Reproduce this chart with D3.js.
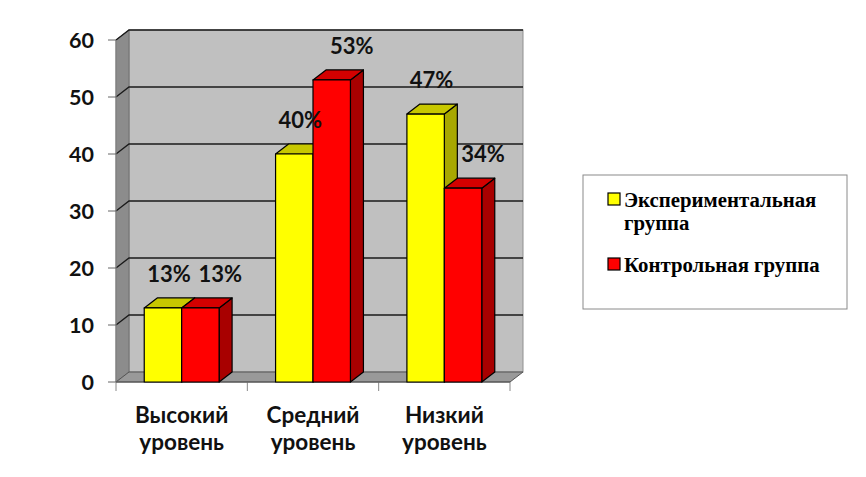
<!DOCTYPE html>
<html>
  <head>
    <meta charset="utf-8">
    <title>Уровни</title>
    <script type="text/javascript" src="https://cdn.jsdelivr.net/npm/d3@7"></script>
    <style type='text/css'>
      body { margin: 0; background: #fff; }
    </style>
  </head>
  <body>
    <script type="text/javascript">
      var w = 866;
      var h = 477;

      var categories = [['Высокий', 'уровень'], ['Средний', 'уровень'], ['Низкий', 'уровень']];
      var seriesNames = [['Экспериментальная', 'группа'], ['Контрольная группа']];
      var experimental = [13, 40, 47];
      var control = [13, 53, 34];
      var yTicks = [0, 10, 20, 30, 40, 50, 60];

      var colors = [
        {front: '#ffff00', top: '#c8c800', side: '#a8a800'},
        {front: '#ff0000', top: '#d40000', side: '#a80000'}
      ];

      // 3d depth offset
      var dx = 13, dy = -10;

      var svg = d3.select('body')
                  .append('svg')
                  .attr('width', w)
                  .attr('height', h);

      var x = d3.scaleBand()
                .domain(d3.range(categories.length))
                .range([116, 510])
                .paddingInner(0.43)
                .paddingOuter(0.215);
      var xs = d3.scaleBand()
                 .domain([0, 1])
                 .range([0, x.bandwidth()]);
      var y = d3.scaleLinear().domain([0, 60]).range([382, 40]);

      var x0 = 116, x1 = 510;
      var y0 = y(0), yTop = y(60);

      function poly(pts) { return pts.map(function(p) { return p.join(','); }).join(' '); }

      // back wall
      svg.append('rect')
        .attr('x', x0 + dx).attr('y', yTop + dy)
        .attr('width', x1 - x0).attr('height', y0 - yTop)
        .attr('fill', '#c0c0c0').attr('stroke', '#909090').attr('stroke-width', 1);
      // left wall
      svg.append('polygon')
        .attr('points', poly([[x0, yTop], [x0 + dx, yTop + dy], [x0 + dx, y0 + dy], [x0, y0]]))
        .attr('fill', '#8c8c8c').attr('stroke', '#707070');
      // floor
      svg.append('polygon')
        .attr('points', poly([[x0, y0], [x0 + dx, y0 + dy], [x1 + dx, y0 + dy], [x1, y0]]))
        .attr('fill', '#999999').attr('stroke', '#555').attr('stroke-width', 1);

      // gridlines
      var grid = svg.append('g').attr('stroke', '#1a1a1a').attr('stroke-width', 1.3).attr('fill', 'none');
      yTicks.filter(function(t) { return t > 0; }).forEach(function(t) {
        grid.append('polyline')
          .attr('points', poly([[x0, y(t)], [x0 + dx, y(t) + dy], [x1 + dx, y(t) + dy]]));
      });

      // y axis ticks and labels
      var yAxis = svg.append('g');
      yAxis.append('line')
        .attr('x1', x0).attr('x2', x0).attr('y1', yTop).attr('y2', y0)
        .attr('stroke', '#888');
      yAxis.selectAll('line.tick')
        .data(yTicks)
        .enter()
        .append('line')
        .attr('class', 'tick')
        .attr('x1', x0 - 8).attr('x2', x0)
        .attr('y1', function(d) { return y(d); })
        .attr('y2', function(d) { return y(d); })
        .attr('stroke', '#666');
      yAxis.selectAll('text')
        .data(yTicks)
        .enter()
        .append('text')
        .text(function(d) { return d; })
        .attr('x', 94)
        .attr('y', function(d) { return y(d) + 7.5; })
        .attr('text-anchor', 'end')
        .attr('font-family', 'Lato, sans-serif')
        .attr('font-weight', 'bold')
        .attr('font-size', '21.5px')
        .attr('fill', '#111');

      // x axis ticks
      var xTicks = d3.range(categories.length + 1).map(function(i) { return x0 + i * x.step(); });
      svg.selectAll('line.xtick')
        .data(xTicks)
        .enter()
        .append('line')
        .attr('class', 'xtick')
        .attr('x1', function(d) { return d; })
        .attr('x2', function(d) { return d; })
        .attr('y1', y0).attr('y2', y0 + 9)
        .attr('stroke', '#888');
      svg.append('line')
        .attr('x1', x0).attr('x2', x1).attr('y1', y0).attr('y2', y0)
        .attr('stroke', '#555');

      // bars
      var bars = [];
      categories.forEach(function(c, i) {
        [experimental, control].forEach(function(s, j) {
          bars.push({cat: i, ser: j, value: s[i]});
        });
      });

      var barG = svg.selectAll('g.bar')
        .data(bars)
        .enter()
        .append('g')
        .attr('class', 'bar')
        .attr('stroke', '#000')
        .attr('stroke-width', 1.2)
        .attr('stroke-linejoin', 'round');

      barG.each(function(d) {
        var g = d3.select(this);
        var bx = x(d.cat) + xs(d.ser);
        var bw = xs.bandwidth();
        var by = y(d.value);
        var c = colors[d.ser];
        g.append('polygon')
          .attr('points', poly([[bx + bw, by], [bx + bw + dx, by + dy], [bx + bw + dx, y0 + dy], [bx + bw, y0]]))
          .attr('fill', c.side);
        g.append('polygon')
          .attr('points', poly([[bx, by], [bx + dx, by + dy], [bx + bw + dx, by + dy], [bx + bw, by]]))
          .attr('fill', c.top);
        g.append('rect')
          .attr('x', bx).attr('y', by)
          .attr('width', bw).attr('height', y0 - by)
          .attr('fill', c.front);
      });

      // value labels
      svg.selectAll('text.val')
        .data(bars)
        .enter()
        .append('text')
        .attr('class', 'val')
        .text(function(d) { return d.value + '%'; })
        .attr('x', function(d) { return x(d.cat) + xs(d.ser) + xs.bandwidth() / 2 + (d.ser ? 20 : 6); })
        .attr('y', function(d) { return y(d.value) - 26; })
        .attr('text-anchor', 'middle')
        .attr('font-family', 'Lato, sans-serif')
        .attr('font-weight', 'bold')
        .attr('font-size', '22px')
        .attr('fill', '#111');

      // category labels
      var catG = svg.selectAll('text.cat')
        .data(categories)
        .enter()
        .append('text')
        .attr('class', 'cat')
        .attr('x', function(d, i) { return x(i) + x.bandwidth() / 2; })
        .attr('y', 423)
        .attr('text-anchor', 'middle')
        .attr('font-family', 'Lato, sans-serif')
        .attr('font-weight', 'bold')
        .attr('font-size', '22.5px')
        .attr('fill', '#111');
      catG.selectAll('tspan')
        .data(function(d) { return d; })
        .enter()
        .append('tspan')
        .attr('x', function() { return d3.select(this.parentNode).attr('x'); })
        .attr('dy', function(d, i) { return i ? 27 : 0; })
        .text(function(d) { return d; });

      // legend
      var legend = svg.append('g');
      legend.append('rect')
        .attr('x', 583).attr('y', 175)
        .attr('width', 264).attr('height', 134)
        .attr('fill', '#fff').attr('stroke', '#8a8a8a');
      var legY = [193, 258];
      seriesNames.forEach(function(name, j) {
        legend.append('rect')
          .attr('x', 608).attr('y', legY[j])
          .attr('width', 12).attr('height', 12)
          .attr('fill', colors[j].front)
          .attr('stroke', '#000').attr('stroke-width', 1.2);
        var t = legend.append('text')
          .attr('x', 624).attr('y', legY[j] + 14)
          .attr('font-family', '"Liberation Serif", serif')
          .attr('font-weight', 'bold')
          .attr('font-size', '20.8px')
          .attr('fill', '#000');
        t.selectAll('tspan')
          .data(name)
          .enter()
          .append('tspan')
          .attr('x', 624)
          .attr('dy', function(d, i) { return i ? 23 : 0; })
          .text(function(d) { return d; });
      });
    </script>
  </body>
</html>
